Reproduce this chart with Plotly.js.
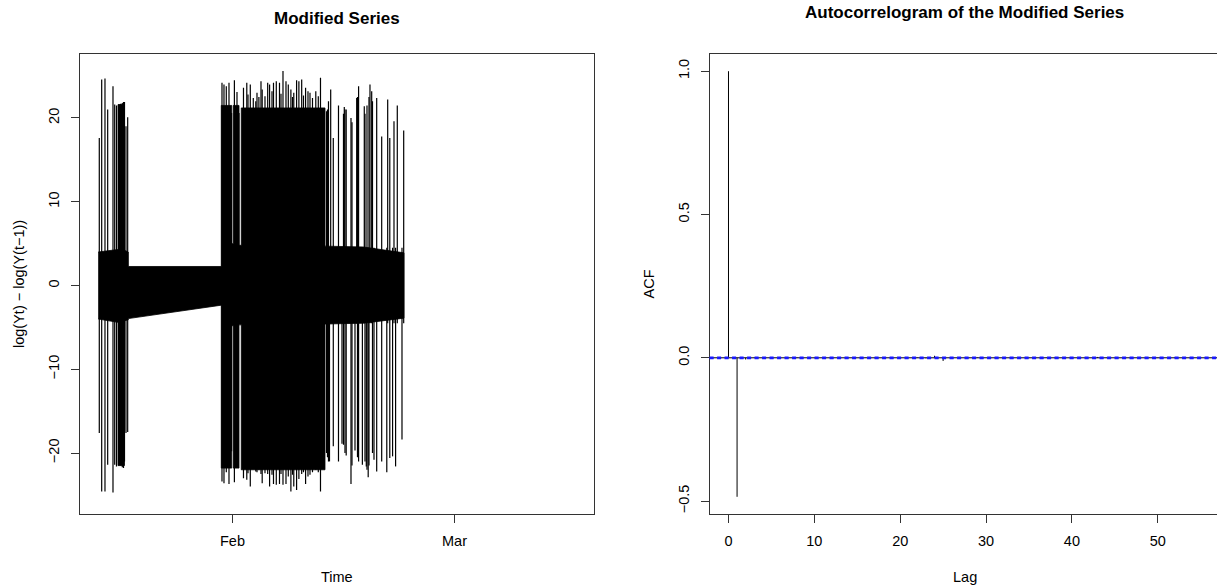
<!DOCTYPE html>
<html>
<head>
<meta charset="utf-8">
<script src="https://cdn.plot.ly/plotly-3.0.1.min.js"></script>
<style>html,body{margin:0;padding:0;background:#fff}#chart{width:1217px;height:585px}</style>
</head>
<body>
<div id="chart"></div>
<script>
// ---------------- DATA ----------------
// Left panel: dense band envelope of the modified series (time, upper, lower)
const envTime = [
  "2021-01-15 01:50","2021-01-17 13:30","2021-01-17 13:30","2021-01-18 09:06","2021-01-18 09:06","2021-01-18 20:38",
  "2021-01-18 20:38","2021-01-30 14:06",
  "2021-01-30 14:06","2021-01-31 21:35","2021-01-31 21:35","2021-02-01 02:25","2021-02-01 02:25",
  "2021-02-01 19:40","2021-02-01 19:40","2021-02-02 02:38","2021-02-02 02:38",
  "2021-02-12 15:57","2021-02-12 15:57","2021-02-17 12:00","2021-02-22 15:03"
];
const envUpper = [
  4.0, 4.3, 21.6, 21.6, 4.2, 4.0,
  2.27, 2.27,
  21.5, 21.5, 5.0, 5.0, 21.5,
  21.5, 4.8, 4.8, 21.2,
  21.2, 4.7, 4.6, 3.9
];
const envLower = [
  -4.0, -4.4, -21.5, -21.5, -4.2, -4.1,
  -3.95, -2.35,
  -21.8, -21.8, -4.8, -4.8, -21.8,
  -21.8, -4.7, -4.7, -22.0,
  -22.0, -4.6, -4.5, -3.9
];

// Left panel: individual spikes (time, high value, low value)
const spikeTime = [
  "2021-01-15 04:52","2021-01-15 12:08","2021-01-15 22:07","2021-01-16 06:17","2021-01-16 22:20","2021-01-17 03:29",
  "2021-01-17 08:56","2021-01-17 16:29","2021-01-17 21:38","2021-01-18 02:29","2021-01-18 06:07","2021-01-18 09:08",
  "2021-01-18 13:41","2021-01-18 18:49",
  "2021-01-30 16:13","2021-01-30 22:16","2021-01-31 05:14","2021-01-31 13:25","2021-01-31 21:17","2021-02-01 05:45",
  "2021-02-01 13:37","2021-02-01 19:40",
  "2021-02-02 09:17","2021-02-02 19:17","2021-02-02 22:55","2021-02-03 05:52","2021-02-03 14:57","2021-02-03 22:31",
  "2021-02-04 02:09","2021-02-04 07:54","2021-02-04 14:16","2021-02-04 17:53","2021-02-05 02:22","2021-02-05 10:32",
  "2021-02-05 16:17","2021-02-05 23:33","2021-02-06 04:05","2021-02-06 12:34","2021-02-06 22:15","2021-02-07 02:47",
  "2021-02-07 08:50","2021-02-07 17:55","2021-02-08 00:53","2021-02-08 08:45","2021-02-08 13:35","2021-02-08 17:31",
  "2021-02-09 02:00","2021-02-09 08:58","2021-02-09 17:26","2021-02-09 22:53","2021-02-10 05:14","2021-02-10 12:30",
  "2021-02-10 18:33","2021-02-11 02:07","2021-02-11 12:07","2021-02-11 19:40","2021-02-12 02:20",
  "2021-02-12 20:29","2021-02-12 23:31","2021-02-13 02:32","2021-02-13 05:34","2021-02-13 09:12","2021-02-13 17:04",
  "2021-02-14 08:49","2021-02-14 19:24","2021-02-14 23:56","2021-02-15 02:22","2021-02-15 04:29","2021-02-15 08:07",
  "2021-02-15 22:38","2021-02-16 01:40","2021-02-16 10:45","2021-02-16 15:53","2021-02-16 18:19","2021-02-16 21:38",
  "2021-02-17 09:08","2021-02-17 14:53","2021-02-17 17:01","2021-02-17 20:57","2021-02-17 23:04","2021-02-18 02:42",
  "2021-02-18 05:07","2021-02-18 08:08","2021-02-18 13:17","2021-02-18 15:43","2021-02-18 20:15","2021-02-19 04:25",
  "2021-02-19 19:33","2021-02-20 10:59","2021-02-20 13:43","2021-02-20 20:04","2021-02-21 04:32","2021-02-21 08:47",
  "2021-02-21 13:37","2021-02-21 18:46","2021-02-22 09:00","2021-02-22 14:08"
];
const spikeHigh = [
  17.6, 24.6, 24.7, 21.0, 23.8, 21.6,
  21.5, 21.6, 21.7, 21.8, 21.9, 21.9,
  19.0, 20.1,
  24.2, 24.0, 23.8, 24.2, 20.6, 24.5,
  23.1, 20.6,
  23.6, 24.2, 22.8, 24.0, 22.4, 22.0,
  23.0, 22.5, 24.4, 23.4, 22.6, 24.2,
  24.0, 23.2, 24.2, 24.4, 24.2, 22.9,
  25.6, 24.4, 24.0, 23.4, 22.5, 23.0,
  24.5, 24.4, 24.6, 22.7, 23.6, 23.2,
  23.0, 22.4, 23.2, 22.6, 24.8,
  20.8, 21.0, 22.0, 4.5, 23.4, 17.6,
  21.5, 4.5, 20.5, 21.3, 21.0, 21.0,
  20.0, 19.5, 4.5, 22.4, 22.5, 23.8,
  4.5, 21.4, 20.5, 4.5, 21.5, 4.5,
  22.5, 24.0, 23.2, 22.0, 4.5, 22.4,
  17.8, 4.5, 22.2, 17.6, 4.5, 19.6,
  4.5, 21.5, 4.5, 18.5
];
const spikeLow = [
  -17.6, -24.6, -24.6, -21.4, -24.7, -21.4,
  -21.6, -21.5, -21.5, -21.7, -21.8, -21.0,
  -17.6, -17.5,
  -23.4, -23.6, -22.3, -23.7, -19.8, -23.5,
  -20.0, -4.5,
  -23.0, -23.2, -22.4, -24.0, -21.8, -22.2,
  -22.3, -22.0, -22.5, -23.6, -22.4, -22.5,
  -24.0, -22.6, -23.7, -23.8, -23.7, -22.5,
  -23.8, -23.7, -22.8, -24.6, -22.6, -24.0,
  -24.4, -23.1, -22.5, -22.3, -23.7, -22.8,
  -22.6, -22.3, -22.0, -22.3, -24.6,
  -20.0, -20.5, -21.0, -21.0, -4.5, -19.2,
  -21.0, -18.9, -19.0, -4.5, -20.0, -20.3,
  -23.7, -21.5, -19.7, -4.5, -20.5, -21.0,
  -21.4, -4.5, -21.0, -21.6, -22.0, -22.9,
  -21.5, -4.5, -4.5, -20.0, -20.8, -22.2,
  -21.0, -22.3, -4.5, -20.6, -20.4, -4.5,
  -21.6, -4.5, -18.4, -4.5
];

// Right panel: autocorrelation function
const acfLag = [0,1,2,3,4,5,6,7,8,9,10,11,12,13,14,15,16,17,18,19,20,21,22,23,24,25,26,27,
  28,29,30,31,32,33,34,35,36,37,38,39,40,41,42,43,44,45,46,47,48,49,50,51,52,53,54,55];
const acfValue = [1.0,-0.485,-0.006,0.001,-0.001,0.001,0.000,-0.001,0.001,0.000,-0.001,0.001,0.000,0.001,
  -0.001,0.000,0.001,-0.001,0.000,0.001,-0.001,0.000,0.001,-0.002,0.007,-0.011,0.002,0.000,
  -0.001,0.001,0.000,-0.001,0.001,0.000,0.001,-0.001,0.000,0.001,-0.001,0.000,0.001,-0.001,
  0.000,0.003,-0.001,0.000,0.001,-0.001,0.000,0.001,-0.001,0.000,0.002,-0.003,-0.004,0.001];
const acfConfLimit = 0.0012;

// Text
const leftTitle = "Modified Series";
const rightTitle = "Autocorrelogram of the Modified Series";
const leftXLabel = "Time", leftYLabel = "log(Yt) \u2212 log(Y(t\u22121))";
const rightXLabel = "Lag", rightYLabel = "ACF";
const timeTickVals = ["2021-02-01", "2021-03-01"];
const timeTickText = ["Feb", "Mar"];
const lagTickVals = [0, 10, 20, 30, 40, 50];
const acfTickVals = [-0.5, 0.0, 0.5, 1.0];
const seriesTickVals = [-20, -10, 0, 10, 20];

// ---------------- BUILD ----------------
const W = 1217, H = 585;
const FONT = "Liberation Sans, Arial, Helvetica, sans-serif";
const px = (x) => x / W, py = (y) => 1 - y / H;

// band polygon
const bandX = envTime.concat(envTime.slice().reverse());
const bandY = envUpper.concat(envLower.slice().reverse());

// spikes as vertical segments
const sx = [], sy = [];
spikeTime.forEach((t, i) => { sx.push(t, t, null); sy.push(spikeLow[i], spikeHigh[i], null); });

// acf bars
const ax = [], ay = [];
acfLag.forEach((l, i) => { ax.push(l, l, null); ay.push(0, acfValue[i], null); });

const traces = [
  {type: "scatter", mode: "lines", x: bandX, y: bandY, fill: "toself", fillcolor: "#000",
   line: {color: "#000", width: 0.8}, xaxis: "x", yaxis: "y", hoverinfo: "skip"},
  {type: "scatter", mode: "lines", x: sx, y: sy, line: {color: "#000", width: 1.2},
   xaxis: "x", yaxis: "y", hoverinfo: "skip", connectgaps: false},
  {type: "scatter", mode: "lines", x: ax, y: ay, line: {color: "#000", width: 1},
   xaxis: "x2", yaxis: "y2", hoverinfo: "skip", connectgaps: false}
];

const tickFont = {family: FONT, size: 14.5, color: "#000"};
const axBase = {
  showgrid: false, zeroline: false, showline: true, linecolor: "#333", linewidth: 1,
  ticks: "outside", ticklen: 8, tickcolor: "#333", tickwidth: 1, tickfont: tickFont,
  fixedrange: true
};
const yDom = [py(514), py(54)];

const layout = {
  width: W, height: H,
  margin: {l: 0, r: 0, t: 0, b: 0},
  paper_bgcolor: "#fff", plot_bgcolor: "#fff",
  showlegend: false,
  font: {family: FONT, color: "#000"},
  xaxis: Object.assign({}, axBase, {
    domain: [px(80), px(593.5)], type: "date", anchor: "y",
    range: ["2021-01-12 18:30", "2021-03-18 12:36"],
    tickmode: "array", tickvals: timeTickVals, ticktext: timeTickText, mirror: true,
    ticklabelstandoff: 6
  }),
  yaxis: Object.assign({}, axBase, {
    domain: yDom, anchor: "x", range: [-27.28, 27.64],
    tickmode: "array", tickvals: seriesTickVals, tickangle: -90, mirror: true,
    ticklabelstandoff: 6
  }),
  xaxis2: Object.assign({}, axBase, {
    domain: [px(709.6), 1], anchor: "y2", range: [-2.2, 56.9],
    tickmode: "array", tickvals: lagTickVals, mirror: true,
    ticklabelstandoff: 6
  }),
  yaxis2: Object.assign({}, axBase, {
    domain: yDom, anchor: "x2", range: [-0.545, 1.06],
    tickmode: "array", tickvals: acfTickVals, tickformat: ".1f", tickangle: -90, mirror: false,
    ticklabelstandoff: 6
  }),
  shapes: [
    {type: "line", xref: "x2 domain", yref: "y2", x0: 0, x1: 1, y0: 0, y1: 0,
     line: {color: "#000", width: 1}, layer: "above"},
    {type: "line", xref: "x2 domain", yref: "y2", x0: 0, x1: 1, y0: acfConfLimit, y1: acfConfLimit,
     line: {color: "#1a1aff", width: 2, dash: "4px,3.5px"}, layer: "above"},
    {type: "line", xref: "x2 domain", yref: "y2", x0: 0, x1: 1, y0: -acfConfLimit, y1: -acfConfLimit,
     line: {color: "#1a1aff", width: 2, dash: "4px,3.5px"}, layer: "above"}
  ],
  annotations: [
    {text: "<b>" + leftTitle + "</b>", x: px(336.75), y: py(18.3), xref: "paper", yref: "paper",
     xanchor: "center", yanchor: "middle", showarrow: false, font: {family: FONT, size: 17, color: "#000"}},
    {text: "<b>" + rightTitle + "</b>", x: px(964.6), y: py(12.5), xref: "paper", yref: "paper",
     xanchor: "center", yanchor: "middle", showarrow: false, font: {family: FONT, size: 17, color: "#000"}},
    {text: leftXLabel, x: px(336.75), y: py(576.7), xref: "paper", yref: "paper",
     xanchor: "center", yanchor: "middle", showarrow: false, font: tickFont},
    {text: rightXLabel, x: px(964.6), y: py(576.7), xref: "paper", yref: "paper",
     xanchor: "center", yanchor: "middle", showarrow: false, font: tickFont},
    {text: leftYLabel, x: px(19), y: py(284), xref: "paper", yref: "paper", textangle: -90,
     xanchor: "center", yanchor: "middle", showarrow: false, font: tickFont},
    {text: rightYLabel, x: px(648.5), y: py(284), xref: "paper", yref: "paper", textangle: -90,
     xanchor: "center", yanchor: "middle", showarrow: false, font: tickFont}
  ]
};

Plotly.newPlot("chart", traces, layout, {displayModeBar: false, staticPlot: true});
</script>
</body>
</html>
